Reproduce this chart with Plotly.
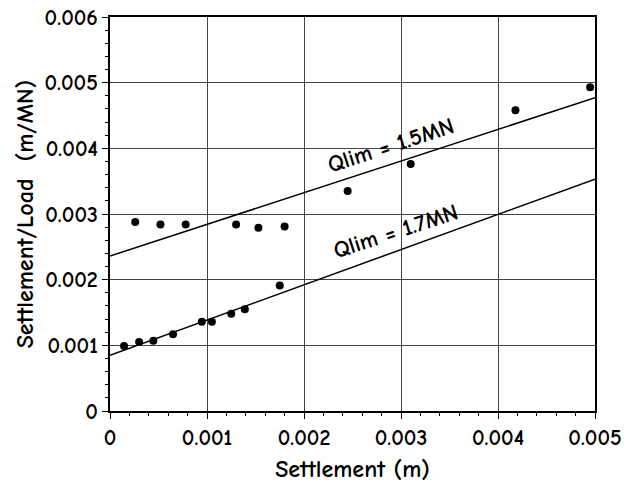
import plotly.graph_objects as go

# Data
upper_x = [0.00026, 0.00052, 0.00078, 0.00130, 0.00153, 0.00180, 0.00245, 0.00310, 0.00418, 0.00495]
upper_y = [0.00288, 0.00284, 0.00284, 0.00284, 0.00279, 0.00281, 0.00335, 0.00376, 0.00458, 0.00493]
lower_x = [0.000145, 0.00030, 0.000447, 0.00065, 0.000947, 0.00105, 0.00125, 0.00139, 0.00175]
lower_y = [0.00099, 0.00105, 0.00107, 0.00117, 0.00136, 0.00136, 0.00148, 0.00155, 0.00191]

line_x = [0.0, 0.005]
line15_y = [0.00236, 0.00477]
line17_y = [0.00085, 0.00353]

x_ticks = [0, 0.001, 0.002, 0.003, 0.004, 0.005]
x_labels = ["0", "0.001", "0.002", "0.003", "0.004", "0.005"]
y_ticks = [0, 0.001, 0.002, 0.003, 0.004, 0.005, 0.006]
y_labels = ["0", "0.001", "0.002", "0.003", "0.004", "0.005", "0.006"]

FONT = "Comic Sans MS, Comic Neue, DejaVu Sans, sans-serif"

fig = go.Figure()
fig.add_trace(go.Scatter(x=line_x, y=line15_y, mode="lines",
                         line=dict(color="black", width=1.5), showlegend=False))
fig.add_trace(go.Scatter(x=line_x, y=line17_y, mode="lines",
                         line=dict(color="black", width=1.5), showlegend=False))
fig.add_trace(go.Scatter(x=upper_x, y=upper_y, mode="markers",
                         marker=dict(color="black", size=8), showlegend=False))
fig.add_trace(go.Scatter(x=lower_x, y=lower_y, mode="markers",
                         marker=dict(color="black", size=8), showlegend=False))

fig.add_annotation(x=0.00289, y=0.00405, text="<b>Qlim = 1.5MN</b>", showarrow=False,
                   textangle=-18, font=dict(family=FONT, size=23, color="black"))
fig.add_annotation(x=0.00294, y=0.00273, text="<b>Qlim = 1.7MN</b>", showarrow=False,
                   textangle=-18, font=dict(family=FONT, size=23, color="black"))

axis_common = dict(
    showline=True, linecolor="black", linewidth=1.5, mirror=True,
    showgrid=True, gridcolor="#444444", gridwidth=1, zeroline=False,
    ticks="outside", ticklen=6, tickcolor="black",
    minor=dict(ticks="outside", ticklen=3, tickcolor="black", showgrid=False),
    tickfont=dict(family=FONT, size=22, color="black"),
    ticklabeloverflow="allow",
)

fig.update_xaxes(range=[0, 0.005], tickvals=x_ticks, ticktext=["<b>%s</b>" % t for t in x_labels],
                 minor_dtick=0.0002,
                 title=dict(text="<b>Settlement (m)</b>", standoff=18,
                            font=dict(family=FONT, size=24, color="black")),
                 **axis_common)
fig.update_yaxes(range=[0, 0.006], tickvals=y_ticks, ticktext=["<b>%s</b>" % t for t in y_labels],
                 minor_dtick=0.0002,
                 title=dict(text="<b>Settlement/Load  (m/MN)</b>", standoff=4,
                            font=dict(family=FONT, size=24, color="black")),
                 **axis_common)

fig.update_layout(width=634, height=483, plot_bgcolor="white", paper_bgcolor="white",
                  margin=dict(l=110, r=39, t=17, b=72, autoexpand=False))

fig.write_html("out.html", config={"displayModeBar": False},
               post_script="document.body.style.margin='0';")
